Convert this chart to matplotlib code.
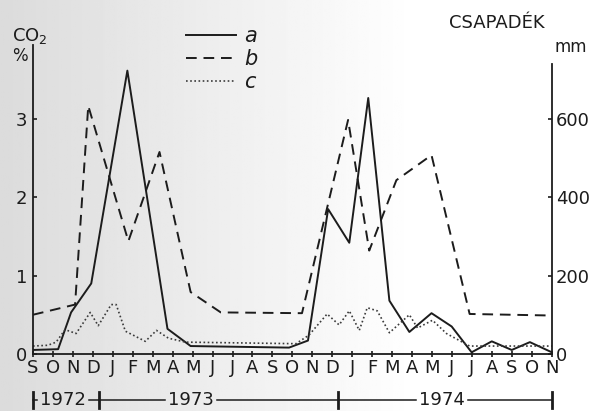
import numpy as np
import matplotlib
matplotlib.use("Agg")
import matplotlib.pyplot as plt
from matplotlib.transforms import blended_transform_factory

# month labels, Sep 1972 -> Nov 1974 (x = month index, 0 = Sep 1972)
months = list("SONDJFMAMJJASONDJFMAMJJASON")

# a : CO2 %, solid
a_t = [0.0, 1.26, 1.91, 2.92, 4.73, 6.74, 7.9, 12.83, 13.78, 14.79, 15.85,
       16.8, 17.86, 18.86, 19.97, 20.98, 21.98, 22.99, 23.99, 24.9, 26.0]
a_val = [0.05, 0.06, 0.53, 0.90, 3.62, 0.32, 0.10, 0.08, 0.17, 1.85, 1.42,
         3.27, 0.68, 0.28, 0.52, 0.35, 0.02, 0.16, 0.05, 0.15, 0.02]

# b : csapadék mm, dashed (right axis)
b_t = [0.0, 2.11, 2.77, 4.78, 6.34, 7.9, 9.41, 13.48, 15.79, 16.85, 18.21,
       19.97, 21.88, 26.0]
b_mm = [100, 126, 634, 288, 516, 158, 106, 104, 598, 264, 444, 508, 102, 98]

# c : CO2 %, dotted
c_t = [0.0, 0.75, 1.16, 1.61, 2.16, 2.87, 3.27, 3.92, 4.17, 4.63, 5.63, 6.19,
       6.79, 7.65, 13.18, 13.83, 14.74, 15.34, 15.85, 16.35, 16.75, 17.25,
       17.86, 18.86, 19.27, 20.02, 20.72, 21.88, 26.0]
c_val = [0.10, 0.11, 0.15, 0.31, 0.26, 0.53, 0.36, 0.63, 0.63, 0.29, 0.16, 0.30,
         0.20, 0.15, 0.13, 0.24, 0.51, 0.37, 0.55, 0.30, 0.59, 0.55,
         0.27, 0.50, 0.33, 0.43, 0.26, 0.10, 0.10]

years = ["1972", "1973", "1974"]
year_edges = [0, 3.3, 15.3, 26]
year_label_at = [1.5, 7.9, 20.5]

INK = "#1c1c1c"
FS = 13

fig = plt.figure(figsize=(5.93, 4.11), dpi=100)

# scanned-paper background: greyish on the left, white on the right
bg = fig.add_axes([0, 0, 1, 1], zorder=-5)
grad = np.clip(np.linspace(0.86, 1.06, 256), 0, 1)
bg.imshow(np.tile(grad, (2, 1)), cmap="gray", vmin=0, vmax=1, aspect="auto")
bg.axis("off")

ax = fig.add_axes([0.0556, 0.139, 0.875, 0.752])
ax.set_facecolor("none")
ax2 = ax.twinx()

la, = ax.plot(a_t, a_val, color=INK, lw=1.4, label="a")
lb, = ax2.plot(b_t, b_mm, color=INK, lw=1.4, ls=(0, (5.5, 3.5)), label="b")
lc, = ax.plot(c_t, c_val, color="#3a3a3a", lw=1.2, ls=(0, (1, 1.5)), label="c")

ax.set_xlim(0, 26)
ax.set_ylim(0, 3.95)
ax2.set_ylim(0, 790)

ax.spines["top"].set_visible(False)
ax2.spines["top"].set_visible(False)
ax2.spines["left"].set_visible(False)
ax2.spines["bottom"].set_visible(False)
ax.spines["right"].set_visible(False)
ax2.spines["right"].set_bounds(0, 740)
for sp in [ax.spines["left"], ax.spines["bottom"], ax2.spines["right"]]:
    sp.set_color(INK)
    sp.set_linewidth(1.3)

ax.set_xticks(range(len(months)))
ax.set_xticklabels(months)
ax.tick_params(axis="x", direction="inout", length=4, width=1.2, color=INK,
               labelsize=FS, pad=2, labelcolor=INK)
ax.set_yticks([0, 1, 2, 3])
ax.set_yticklabels(["0", "1", "2", "3"])
ax.tick_params(axis="y", direction="in", length=3, width=1.2, color=INK,
               labelsize=FS, pad=4, labelcolor=INK)
ax2.set_yticks([0, 200, 400, 600])
ax2.tick_params(axis="y", direction="in", length=3, width=1.2, color=INK,
                labelsize=FS, pad=3, labelcolor=INK)

# axis titles
fig.text(0.020, 0.912, "CO$_2$", fontsize=FS, color=INK, ha="left", va="center")
fig.text(0.020, 0.863, "%", fontsize=FS - 1, color=INK, ha="left", va="center")
fig.text(0.758, 0.945, "CSAPADÉK", fontsize=FS, color=INK, ha="left", va="center")
fig.text(0.935, 0.885, "mm", fontsize=FS - 1, color=INK, ha="left", va="center")

# year bracket under the month labels
tr = blended_transform_factory(ax.transData, ax.transAxes)
yb = -0.149
half = 1.3
for i, yr in enumerate(years):
    x0, x1, xm = year_edges[i], year_edges[i + 1], year_label_at[i]
    ax.plot([x0, xm - half], [yb, yb], color=INK, lw=1.1, transform=tr, clip_on=False)
    ax.plot([xm + half, x1], [yb, yb], color=INK, lw=1.1, transform=tr, clip_on=False)
    ax.text(xm, yb, yr, transform=tr, ha="center", va="center", fontsize=FS,
            color=INK)
for e in year_edges:
    ax.plot([e, e], [yb - 0.025, yb + 0.025], color=INK, lw=2.0, transform=tr,
            clip_on=False)

leg = ax.legend(handles=[la, lb, lc], loc="upper left",
                bbox_to_anchor=(0.282, 0.982), bbox_transform=fig.transFigure,
                frameon=False, handlelength=2.4, handletextpad=0.4,
                labelspacing=0.15, prop={"size": 15, "style": "italic"})
for t in leg.get_texts():
    t.set_color(INK)

fig.savefig("out.png", dpi=100)
